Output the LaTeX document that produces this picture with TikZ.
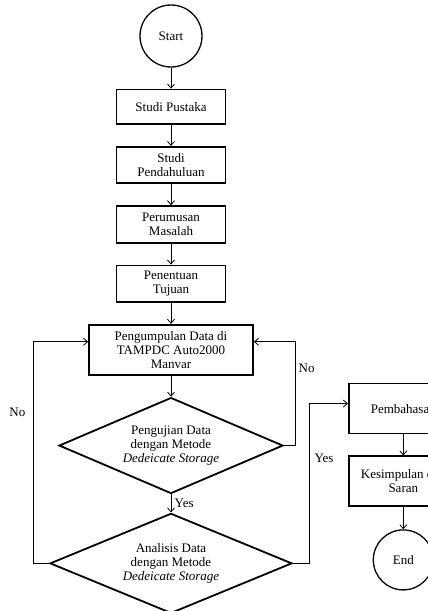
\documentclass[tikz,border=0pt]{standalone}
\usepackage{fontspec}
\setmainfont{Liberation Serif}
\usetikzlibrary{arrows.meta,positioning,shapes.geometric}
\newcommand{\flowfont}{\fontsize{13}{14}\selectfont}
\tikzset{
  block/.style={rectangle, draw=black, line width=1.8pt, minimum width=109pt,
                minimum height=36.5pt, align=center, font=\flowfont, inner sep=2pt},
  decision/.style={diamond, aspect=2.3, draw=black, line width=1.8pt,
                   minimum width=224pt, minimum height=96pt,
                   align=center, font=\flowfont, inner sep=0pt},
  terminal/.style={circle, draw=black, line width=1.3pt, minimum size=62pt,
                   font=\flowfont},
  arrow/.style={-{Straight Barb[length=4pt,width=7pt]}, line width=0.8pt},
  lbl/.style={font=\flowfont},
}

\begin{document}
\begin{tikzpicture}[node distance=21pt]
  \useasboundingbox (0,0) rectangle (428pt,-611pt);
  \clip (0,0) rectangle (428pt,-611pt);
  \node[terminal] (start) at (171pt,-36pt) {Start};
  \node[block, below=of start, minimum height=34.5pt] (pustaka) {Studi Pustaka};
  \node[block, below=of pustaka] (pendahuluan) {Studi\\Pendahuluan};
  \node[block, below=of pendahuluan] (rumusan) {Perumusan\\Masalah};
  \node[block, below=of rumusan] (tujuan) {Penentuan\\Tujuan};
  \node[block, below=of tujuan, minimum width=164pt, minimum height=50pt] (kumpul) {Pengumpulan Data di\\TAMPDC Auto2000\\Manvar};
  \node[decision, below=of kumpul] (uji) {Pengujian Data\\dengan Metode\\\textit{Dedeicate Storage}};
  \node[decision, below=18pt of uji, minimum width=242pt, minimum height=100pt] (analisis) {Analisis Data\\dengan Metode\\\textit{Dedeicate Storage}};
  \node[block, anchor=west, minimum height=50pt] (bahas) at ([shift={(64pt,37pt)}]uji.east) {Pembahasan};
  \node[block, below=of bahas, minimum height=50pt] (simpulan) {Kesimpulan dan\\Saran};
  \node[terminal, below=22pt of simpulan, minimum size=60pt] (end) {End};
  \draw[arrow] (start) -- (pustaka);
  \draw[arrow] (pustaka) -- (pendahuluan);
  \draw[arrow] (pendahuluan) -- (rumusan);
  \draw[arrow] (rumusan) -- (tujuan);
  \draw[arrow] (tujuan) -- (kumpul);
  \draw[arrow] (kumpul) -- (uji);
  \draw[arrow] (uji) -- node[lbl, right]{Yes} (analisis);
  \draw[arrow] (uji.east) -- ++(11pt,0) |- node[lbl, right, pos=0.37]{No} ([yshift=8pt]kumpul.east);
  \draw[arrow] (analisis.west) -- ++(-16pt,0) |- node[lbl, left=4pt, pos=0.34]{No} ([yshift=8pt]kumpul.west);
  \draw[arrow] (analisis.east) -- ++(16pt,0) |- node[lbl, right=2pt, pos=0.33]{Yes} ([yshift=5pt]bahas.west);
  \draw[arrow] (bahas) -- (simpulan);
  \draw[arrow] (simpulan) -- (end);
\end{tikzpicture}
\end{document}
